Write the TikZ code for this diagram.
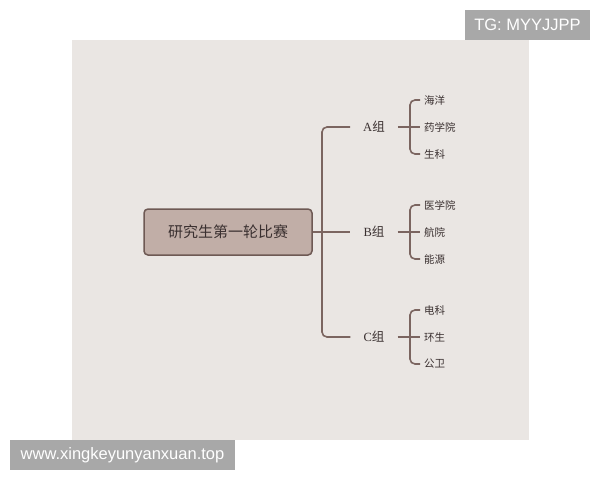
\documentclass[tikz,border=0pt]{standalone}
\usepackage{fontspec}
\setmainfont{Liberation Serif}
\newfontfamily\cjk{Noto Sans CJK SC}
\newfontfamily\wm{Liberation Sans}
\usetikzlibrary{positioning}
\definecolor{bgbeige}{HTML}{EAE6E3}
\definecolor{rootfill}{HTML}{C1AEA7}
\definecolor{rootline}{HTML}{6E5954}
\definecolor{linecol}{HTML}{7B6560}
\definecolor{textdark}{HTML}{3A3030}
\definecolor{tagbg}{HTML}{A8A8A8}
\tikzset{%
  rootnode/.style={draw=rootline, fill=rootfill, rounded corners=4pt, line width=1.5pt,
    minimum width=168pt, minimum height=46pt, text=textdark, font=\cjk\fontsize{15}{17}\selectfont},
  groupnode/.style={text=textdark, inner xsep=13pt, inner ysep=0pt, font=\fontsize{12.5}{14}\selectfont},
  leafnode/.style={anchor=west, text=textdark, inner xsep=4pt, inner ysep=0pt, font=\cjk\fontsize{10.5}{12}\selectfont},
  branch/.style={draw=linecol, line width=1.6pt, rounded corners=5pt},
  tagnode/.style={fill=tagbg, text=white, inner sep=0pt, font=\wm\fontsize{16.5}{18}\selectfont}
}

\begin{document}
\begin{tikzpicture}[x=1pt, y=-1pt]
\useasboundingbox (0,0) rectangle (600,480);
\fill[bgbeige] (72,40) rectangle (529,440);

% watermarks
\node[tagnode, minimum width=125pt, minimum height=30pt] (tg) at (527.5,25) {TG: MYYJJPP};
\node[tagnode, minimum width=225pt, minimum height=30pt] (site) at (122.5,455) {www.xingkeyunyanxuan.top};

\node[rootnode] (root) at (228,232) {研究生第一轮比赛};
\coordinate (trunk) at (322,232);

\foreach \g/\y/\one/\two/\three in {A/127/海洋/药学院/生科, B/232/医学院/航院/能源, C/337/电科/环生/公卫} {
  \node[groupnode] (\g) at (374,\y) {\g{\cjk 组}};
  \coordinate (\g s) at (410,\y);
  \node[leafnode] (\g1) at (420,\y-27) {\one};
  \node[leafnode] (\g2) at (420,\y) {\two};
  \node[leafnode] (\g3) at (420,\y+27) {\three};
  \draw[branch] (\g.east) -- (\g s) -- (\g2.west);
  \draw[branch] (\g1.west) -| (\g s) |- (\g3.west);
}

\draw[branch] (A.west) -| (trunk) |- (C.west);
\draw[branch] (root.east) -- (B.west);

\end{tikzpicture}
\end{document}
